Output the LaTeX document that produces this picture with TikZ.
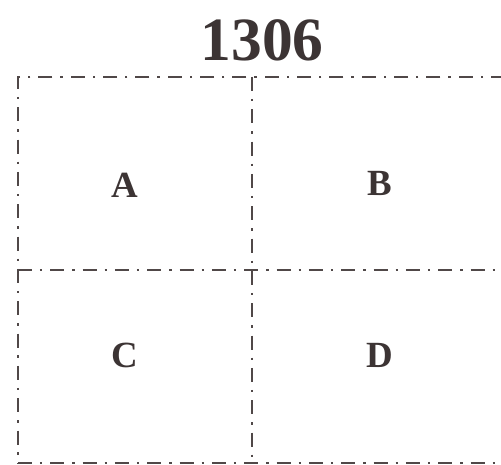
\documentclass[tikz,border=0pt]{standalone}
\usepackage{fontspec}
\setmainfont{Liberation Serif}
\usetikzlibrary{positioning,calc}

\definecolor{inkgray}{HTML}{3C3434}

\begin{document}
\begin{tikzpicture}[x=0.02cm,y=-0.02cm,
  cutline/.style={draw=inkgray!90,line width=1.1pt,dash pattern=on 8pt off 4.5pt on 1.4pt off 4.5pt},
  cell/.style={font=\bfseries\fontsize{21}{21}\selectfont,text=inkgray}]
  \useasboundingbox (0,0) rectangle (501,465);
  \node[font=\bfseries\fontsize{35}{35}\selectfont,text=inkgray] (title) at (262,40) {1306};
  % frame corners and split lines
  \coordinate (tl) at (18,77);
  \coordinate (tr) at (505,77);
  \coordinate (bl) at (18,463);
  \coordinate (br) at (505,463);
  \coordinate (mt) at (252,77);
  \coordinate (mb) at (252,463);
  \coordinate (ml) at (18,270);
  \coordinate (mr) at (505,270);
  \draw[cutline] (tr) -- (tl) -- (bl);
  \draw[cutline] (bl) -- (br);
  \draw[cutline] (mt) -- (mb);
  \draw[cutline] (ml) -- (mr);
  \node[cell] (A) at (125,185) {A};
  \node[cell] (B) at (380,183) {B};
  \node[cell] (C) at (125,355) {C};
  \node[cell] (D) at (380,355) {D};
\end{tikzpicture}
\end{document}
